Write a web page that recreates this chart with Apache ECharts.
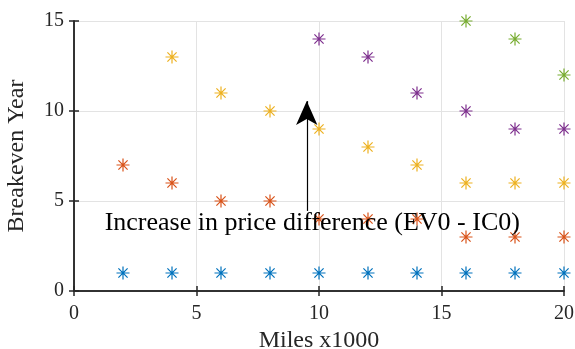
<!DOCTYPE html>
<html><head><meta charset="utf-8">
<script src="https://cdn.jsdelivr.net/npm/echarts@6/dist/echarts.min.js"></script>
<style>html,body{margin:0;padding:0;background:#fff}#c{width:575px;height:349px}</style>
</head><body><div id="c"></div>
<script>
const xTicks = [0, 5, 10, 15, 20];
const yTicks = [0, 5, 10, 15];
const seriesBlue = [[2,1],[4,1],[6,1],[8,1],[10,1],[12,1],[14,1],[16,1],[18,1],[20,1]];
const seriesOrange = [[2,7],[4,6],[6,5],[8,5],[10,4],[12,4],[14,4],[16,3],[18,3],[20,3]];
const seriesYellow = [[4,13],[6,11],[8,10],[10,9],[12,8],[14,7],[16,6],[18,6],[20,6]];
const seriesPurple = [[10,14],[12,13],[14,11],[16,10],[18,9],[20,9]];
const seriesGreen = [[16,15],[18,14],[20,12]];
const colors = ['#0072BD','#D95319','#EDB120','#7E2F8E','#77AC30'];
const arrowFrom = [9.5, 4.45];
const arrowTo = [9.5, 10.55];
const annotText = 'Increase in price difference (EV0 - IC0)';
const annotPos = [1.25, 3.75];

const star = 'path://M0,-10L0,10M-10,0L10,0M-7.07,-7.07L7.07,7.07M-7.07,7.07L7.07,-7.07';
const font = 'Liberation Serif';
function sc(data, color) {
  return {type:'scatter', data, symbol: star, symbolSize: 13,
    itemStyle:{color:'rgba(0,0,0,0)', borderColor: color, borderWidth: 1.2, opacity:1},
    emphasis:{disabled:true}, z:3, clip:false};
}
const ch = echarts.init(document.getElementById('c'));
const axCommon = {min:0, interval:5, axisLine:{show:true,lineStyle:{color:'#262626',width:1.5}},
  axisTick:{show:true,inside:true,length:5,lineStyle:{color:'#262626',width:1.5}},
  splitLine:{show:false}};
ch.setOption({
  animation:false,
  grid:{left:74,right:11,top:21,bottom:58,containLabel:false,outerBoundsMode:'none'},
  xAxis:[
    Object.assign({}, axCommon, {type:'value', max:20, position:'bottom', name:'Miles x1000',
      nameLocation:'middle', nameGap:36, nameTextStyle:{fontFamily:font,fontSize:24,color:'#262626'},
      axisLabel:{fontFamily:font,fontSize:20,color:'#262626',margin:13},
      splitLine:{show:true,lineStyle:{color:'#e3e3e3',width:1}}}),
    Object.assign({}, axCommon, {type:'value', max:20, position:'top', axisLabel:{show:false}})
  ],
  yAxis:[
    Object.assign({}, axCommon, {type:'value', max:15, position:'left', name:'Breakeven Year',
      nameLocation:'middle', nameGap:45, nameTextStyle:{fontFamily:font,fontSize:24,color:'#262626'},
      axisLabel:{fontFamily:font,fontSize:20,color:'#262626',margin:10},
      splitLine:{show:true,lineStyle:{color:'#e3e3e3',width:1}}}),
    Object.assign({}, axCommon, {type:'value', max:15, position:'right', axisLabel:{show:false}})
  ],
  series:[
    sc(seriesBlue, colors[0]), sc(seriesOrange, colors[1]), sc(seriesYellow, colors[2]),
    sc(seriesPurple, colors[3]), sc(seriesGreen, colors[4]),
    {type:'scatter', data:[], silent:true,
      markLine:{silent:true, symbol:['none','arrow'], symbolSize:[16,24],
        lineStyle:{color:'#000',width:1.2,type:'solid'}, label:{show:false},
        data:[[{coord:arrowFrom},{coord:arrowTo}]]},
      markPoint:{silent:true, symbol:'circle', symbolSize:0,
        label:{show:true, position:'right', distance:0, formatter:annotText, fontFamily:font, fontSize:26, color:'#000', verticalAlign:'middle'},
        data:[{coord:annotPos}]}
    }
  ]
});
</script></body></html>
